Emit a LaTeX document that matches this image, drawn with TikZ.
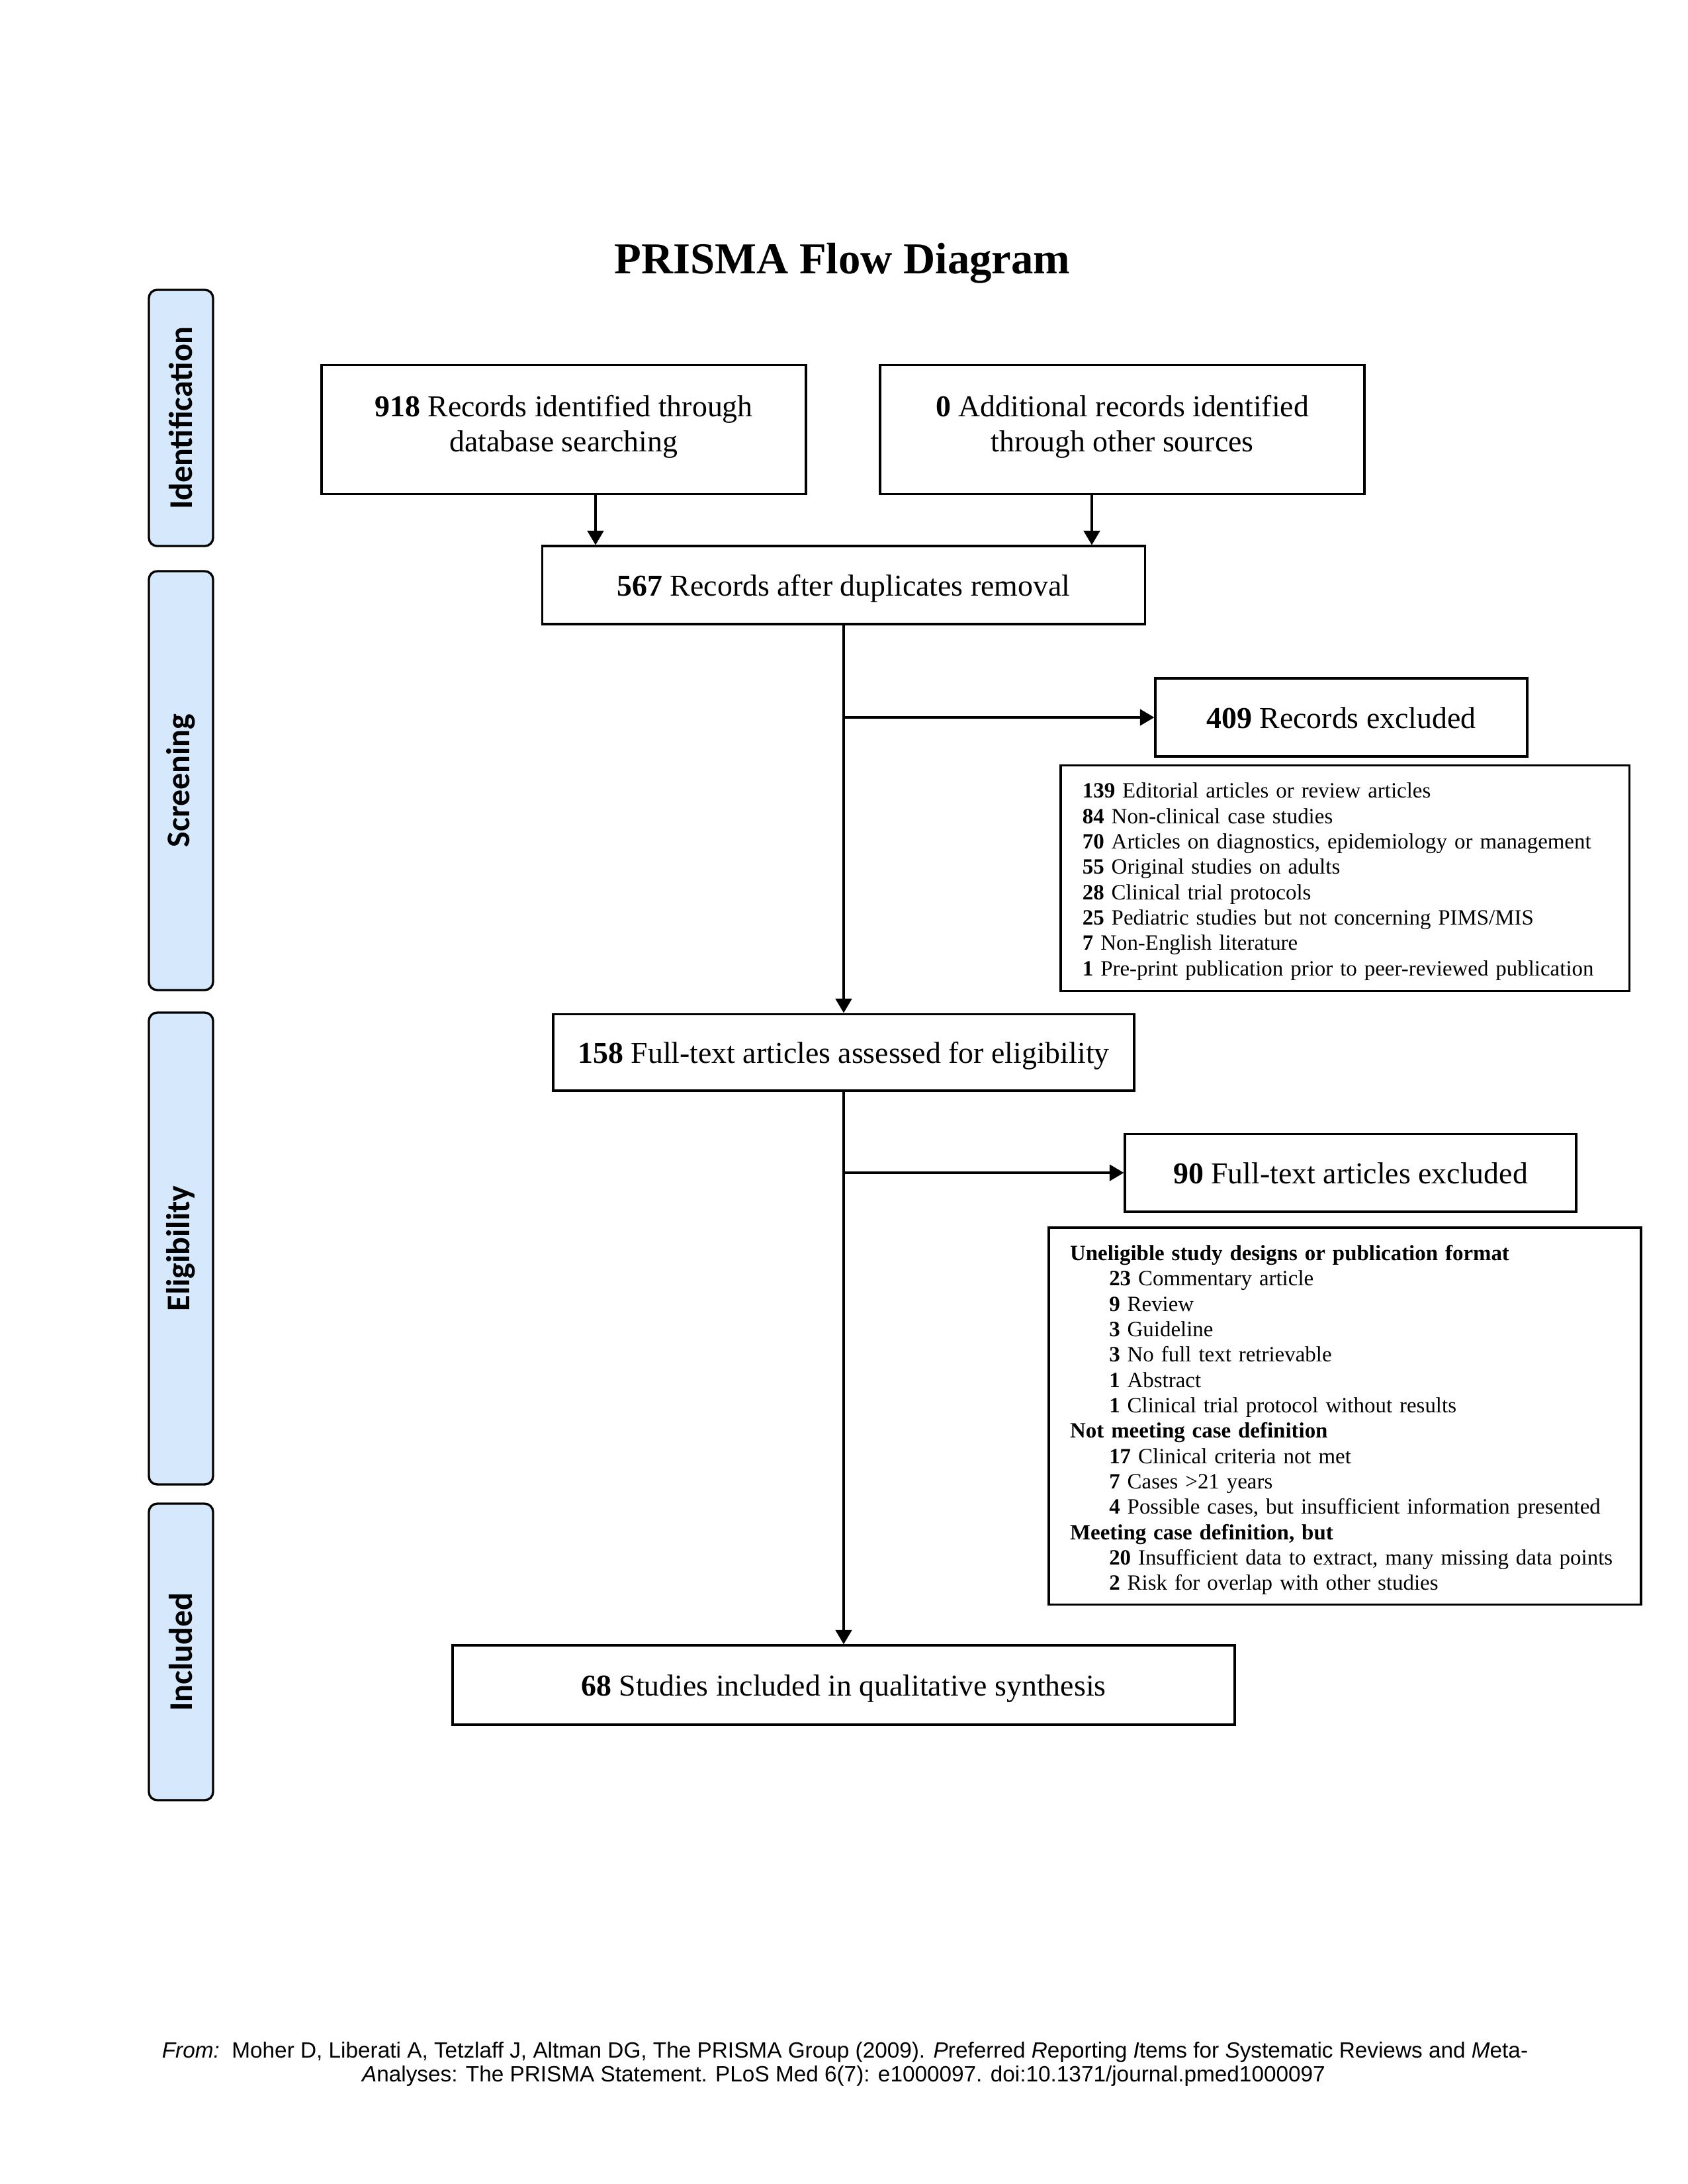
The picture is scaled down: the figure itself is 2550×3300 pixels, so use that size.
\documentclass[tikz,border=0pt]{standalone}
\usepackage{fontspec}
\setmainfont{Liberation Serif}
\newfontfamily\sidefont{Carlito}
\newfontfamily\footfont{Liberation Sans}
\usetikzlibrary{arrows.meta}
\definecolor{phaseblue}{RGB}{214,233,252}
\begin{document}
\begin{tikzpicture}[x=0.24pt,y=-0.24pt,
  box/.style={draw=black,line width=0.75pt,fill=white,inner sep=0pt,align=center,
    text height=10.2pt,text depth=2.5pt,font=\fontsize{11}{12.7}\selectfont},
  boxtext/.style={inner sep=0pt,align=center,font=\fontsize{11}{12.7}\selectfont},
  framebox/.style={draw=black,line width=0.75pt,fill=white,inner sep=0pt},
  listtext/.style={inner sep=0pt,align=left,font=\fontsize{7.9}{9.2}\selectfont},
  phase/.style={draw=black,line width=0.8pt,fill=phaseblue,rounded corners=3pt,
    minimum height=23.3pt,inner sep=0pt,rotate=90,
    font=\sidefont\bfseries\fontsize{12}{14}\selectfont},
  arr/.style={line width=0.85pt,-{Triangle[length=5.2pt,width=5.9pt]}},
  foot/.style={inner sep=0pt,anchor=base,font=\footfont\fontsize{8}{9.2}\selectfont}
]
\useasboundingbox (0,0) rectangle (2550,3300);

% title
\node[anchor=base,inner sep=0pt,font=\fontsize{16}{19}\selectfont\bfseries] (title) at (1273,413) {PRISMA Flow Diagram};

% phase bars
\node[phase,minimum width=92.9pt] (pid) at (273.5,631.5) {Identification};
\node[phase,minimum width=151.9pt] (pscr) at (273.5,1179.5) {Screening};
\node[phase,minimum width=171.1pt] (pel) at (273.5,1886.5) {Eligibility};
\node[phase,minimum width=107.5pt] (pinc) at (273.5,2496) {Included};

% identification
\node[framebox,minimum width=175.7pt,minimum height=47pt] (b1) at (852,649) {};
\node[boxtext] (t1) at (852,645) {\textbf{918} Records identified through\\database searching};
\node[framebox,minimum width=175.7pt,minimum height=47pt] (b2) at (1696,649) {};
\node[boxtext] (t2) at (1696,645) {\textbf{0} Additional records identified\\through other sources};

% screening
\node[box,minimum width=218.6pt,minimum height=28.3pt] (b3) at (1275,884) {\textbf{567} Records after duplicates removal};
\node[box,minimum width=134.9pt,minimum height=28.3pt] (b409) at (2027,1084) {\textbf{409} Records excluded};
\node[framebox,minimum width=206.2pt,minimum height=81.8pt] (l1) at (2032.5,1327) {};
\node[listtext,text width=190.4pt] (l1t) at (2032.5,1332) {%
\textbf{139} Editorial articles or review articles\\
\textbf{84} Non-clinical case studies\\
\textbf{70} Articles on diagnostics, epidemiology or management\\
\textbf{55} Original studies on adults\\
\textbf{28} Clinical trial protocols\\
\textbf{25} Pediatric studies but not concerning PIMS/MIS\\
\textbf{7} Non-English literature\\
\textbf{1} Pre-print publication prior to peer-reviewed publication};

% eligibility
\node[box,minimum width=210.7pt,minimum height=27.8pt] (b158) at (1275,1590) {\textbf{158} Full-text articles assessed for eligibility};
\node[box,minimum width=163.7pt,minimum height=28.3pt] (b90) at (2041,1772) {\textbf{90} Full-text articles excluded};
\node[framebox,minimum width=214.8pt,minimum height=136.6pt] (l2) at (2032.5,2139.5) {};
\node[listtext,text width=199.4pt] (l2t) at (2032.5,2145.5) {%
\textbf{Uneligible study designs or publication format}\\
\hspace*{14.2pt}\textbf{23} Commentary article\\
\hspace*{14.2pt}\textbf{9} Review\\
\hspace*{14.2pt}\textbf{3} Guideline\\
\hspace*{14.2pt}\textbf{3} No full text retrievable\\
\hspace*{14.2pt}\textbf{1} Abstract\\
\hspace*{14.2pt}\textbf{1} Clinical trial protocol without results\\
\textbf{Not meeting case definition}\\
\hspace*{14.2pt}\textbf{17} Clinical criteria not met\\
\hspace*{14.2pt}\textbf{7} Cases >21 years\\
\hspace*{14.2pt}\textbf{4} Possible cases, but insufficient information presented\\
\textbf{Meeting case definition, but}\\
\hspace*{14.2pt}\textbf{20} Insufficient data to extract, many missing data points\\
\hspace*{14.2pt}\textbf{2} Risk for overlap with other studies};

% included
\node[box,minimum width=283.7pt,minimum height=28.8pt] (b68) at (1275,2546) {\textbf{68} Studies included in qualitative synthesis};

% connectors
\coordinate (c1) at (900,0);
\coordinate (c2) at (1650,0);
\draw[arr] (b1.south -| c1) -- (b3.north -| c1);
\draw[arr] (b2.south -| c2) -- (b3.north -| c2);
\draw[arr] (b3.south) -- (b158.north);
\draw[arr] (b3.south |- b409.west) -- (b409.west);
\draw[arr] (b158.south) -- (b68.north);
\draw[arr] (b158.south |- b90.west) -- (b90.west);

% source note
\node[foot] (foot1) at (1277,3109) {\textit{From:}\ \ Moher D, Liberati A, Tetzlaff J, Altman DG, The PRISMA Group (2009). \textit{P}referred \textit{R}eporting \textit{I}tems for \textit{S}ystematic Reviews and \textit{M}eta-};
\node[foot] (foot2) at (1275,3145) {\textit{A}nalyses: The PRISMA Statement. PLoS Med 6(7): e1000097. doi:10.1371/journal.pmed1000097};
\end{tikzpicture}
\end{document}
